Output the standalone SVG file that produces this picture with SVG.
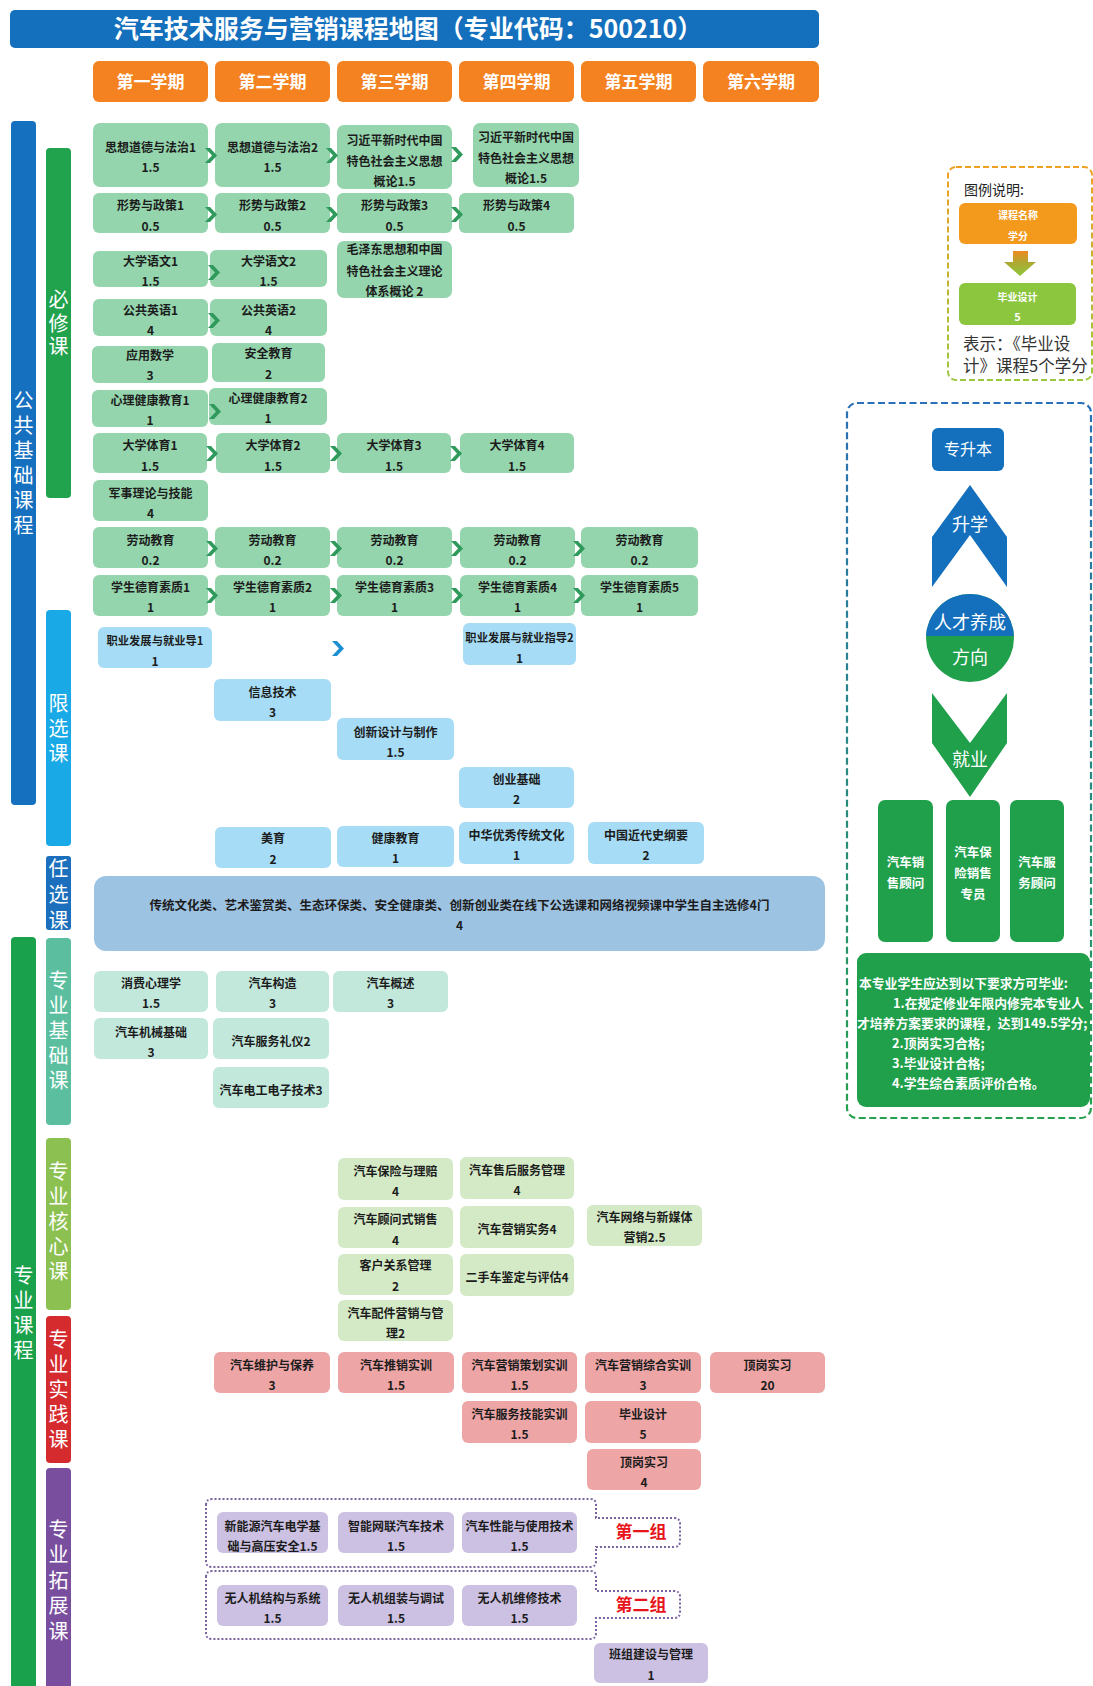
<svg xmlns="http://www.w3.org/2000/svg" width="1093" height="1686" viewBox="0 0 1093 1686">
<defs>
<style>
.t{font-family:"Noto Sans CJK SC","Noto Sans",sans-serif;font-size:12px;font-weight:700;fill:#1c1c1c;text-anchor:middle}
.ts{font-size:11.3px}
.w{font-family:"Noto Sans CJK SC","Noto Sans",sans-serif;fill:#ffffff;text-anchor:middle}
.bar{font-size:20px;writing-mode:vertical-rl;letter-spacing:5px}
.hd{font-size:17px;font-weight:700}
.req{fill:#94d5ad}
.lim{fill:#a6dcf6}
.fre{fill:#9dc3e3}
.fnd{fill:#c2e8dc}
.cor{fill:#d4eac6}
.pra{fill:#eea5a6}
.ext{fill:#ccc1e2}
.sem{fill:#f58220}
.chg{fill:#2f9a5c}
.chb{fill:#1b8fd2}
.grp{fill:none;stroke:#7a64a2;stroke-width:2;stroke-dasharray:2 2}
.gl{font-family:"Noto Sans CJK SC","Noto Sans",sans-serif;font-size:17px;font-weight:700;fill:#e8141c;text-anchor:middle}
.job{fill:#20a04b}
</style>
<path id="chev" d="M0,0 h5 l7,7.5 l-7,7.5 h-5 l7,-7.5 z"/>
<linearGradient id="gLeg" x1="0" y1="0" x2="0" y2="1"><stop offset="0" stop-color="#f0a020"/><stop offset="1" stop-color="#9cc840"/></linearGradient>
<linearGradient id="gPan" x1="0" y1="0" x2="0" y2="1"><stop offset="0" stop-color="#2a70b8"/><stop offset="1" stop-color="#26a04e"/></linearGradient>
<linearGradient id="gArr" x1="0" y1="0" x2="0" y2="1"><stop offset="0" stop-color="#f08a20"/><stop offset="0.45" stop-color="#b0a830"/><stop offset="1" stop-color="#8cc63e"/></linearGradient>
<clipPath id="cTop"><rect x="920" y="590" width="100" height="46"/></clipPath>
</defs>
<rect width="1093" height="1686" fill="#ffffff"/>

<g id="title">
<rect x="10" y="10" width="809" height="38" rx="5" fill="#1470bd"/>
<text class="w" x="408" y="38" style="font-size:25px;font-weight:700">汽车技术服务与营销课程地图（专业代码：500210）</text>
</g>

<g id="semesters">
<g id="sem1"><rect class="sem" x="93" y="61" width="115" height="41" rx="6"/><text class="w hd" x="150.5" y="88">第一学期</text></g>
<g id="sem2"><rect class="sem" x="215" y="61" width="115" height="41" rx="6"/><text class="w hd" x="272.5" y="88">第二学期</text></g>
<g id="sem3"><rect class="sem" x="337" y="61" width="115" height="41" rx="6"/><text class="w hd" x="394.5" y="88">第三学期</text></g>
<g id="sem4"><rect class="sem" x="459" y="61" width="115" height="41" rx="6"/><text class="w hd" x="516.5" y="88">第四学期</text></g>
<g id="sem5"><rect class="sem" x="581" y="61" width="115" height="41" rx="6"/><text class="w hd" x="638.5" y="88">第五学期</text></g>
<g id="sem6"><rect class="sem" x="703" y="61" width="116" height="41" rx="6"/><text class="w hd" x="761" y="88">第六学期</text></g>
</g>

<g id="category-bars">
<g id="bar-public"><rect x="11" y="121" width="25" height="684" rx="4" fill="#1570bf"/>
<text class="w bar" x="23.5" y="465">公共基础课程</text></g>
<g id="bar-required"><rect x="46" y="148" width="25" height="350" rx="4" fill="#21a24d"/>
<text class="w bar" x="58.5" y="325" style="letter-spacing:3.5px">必修课</text></g>
<g id="bar-limited"><rect x="46" y="610" width="25" height="236" rx="4" fill="#18a9e6"/>
<text class="w bar" x="58.5" y="731">限选课</text></g>
<g id="bar-free"><rect x="46" y="856" width="25" height="74" rx="3" fill="#1b6fbd"/>
<text class="w bar" x="58.5" y="897" style="letter-spacing:6px">任选课</text></g>
<g id="bar-major"><rect x="11" y="937" width="25" height="760" rx="4" fill="#1aa14b"/>
<text class="w bar" x="23.5" y="1315">专业课程</text></g>
<g id="bar-foundation"><rect x="46" y="938" width="25" height="187" rx="4" fill="#5bbf9f"/>
<text class="w bar" x="58.5" y="1033">专业基础课</text></g>
<g id="bar-core"><rect x="46" y="1138" width="25" height="172" rx="4" fill="#8cc152"/>
<text class="w bar" x="58.5" y="1224">专业核心课</text></g>
<g id="bar-practice"><rect x="46" y="1316" width="25" height="147" rx="4" fill="#d52b2f"/>
<text class="w bar" x="58.5" y="1392">专业实践课</text></g>
<g id="bar-extension"><rect x="46" y="1468" width="25" height="230" rx="4" fill="#7a4e9f"/>
<text class="w bar" x="58.5" y="1583" style="letter-spacing:5.5px">专业拓展课</text></g>
</g>

<g id="required-courses">
<g id="c-sxdd1"><rect class="req" x="93" y="123" width="115" height="64" rx="7"/><text class="t" x="150.5" y="151.5">思想道德与法治1</text><text class="t" x="150.5" y="171.5">1.5</text></g>
<g id="c-sxdd2"><rect class="req" x="215" y="123" width="115" height="64" rx="7"/><text class="t" x="272.5" y="151.5">思想道德与法治2</text><text class="t" x="272.5" y="171.5">1.5</text></g>
<g id="c-xjp3"><rect class="req" x="337" y="125" width="115" height="64" rx="7"/><text class="t" x="394.5" y="144.5">习近平新时代中国</text><text class="t" x="394.5" y="165.5">特色社会主义思想</text><text class="t" x="394.5" y="185.5">概论1.5</text></g>
<g id="c-xjp4"><rect class="req" x="473" y="123" width="106" height="64" rx="7"/><text class="t" x="526" y="141.5">习近平新时代中国</text><text class="t" x="526" y="162.5">特色社会主义思想</text><text class="t" x="526" y="182.5">概论1.5</text></g>
<g id="c-xszc1"><rect class="req" x="93" y="193" width="115" height="40" rx="6"/><text class="t" x="150.5" y="209.5">形势与政策1</text><text class="t" x="150.5" y="230.5">0.5</text></g>
<g id="c-xszc2"><rect class="req" x="215" y="193" width="115" height="40" rx="6"/><text class="t" x="272.5" y="209.5">形势与政策2</text><text class="t" x="272.5" y="230.5">0.5</text></g>
<g id="c-xszc3"><rect class="req" x="337" y="193" width="115" height="40" rx="6"/><text class="t" x="394.5" y="209.5">形势与政策3</text><text class="t" x="394.5" y="230.5">0.5</text></g>
<g id="c-xszc4"><rect class="req" x="459" y="193" width="115" height="40" rx="6"/><text class="t" x="516.5" y="209.5">形势与政策4</text><text class="t" x="516.5" y="230.5">0.5</text></g>
<g id="c-dxyw1"><rect class="req" x="93" y="251" width="115" height="36" rx="6"/><text class="t" x="150.5" y="265.5">大学语文1</text><text class="t" x="150.5" y="285.5">1.5</text></g>
<g id="c-dxyw2"><rect class="req" x="210" y="250" width="117" height="37" rx="6"/><text class="t" x="268.5" y="265.5">大学语文2</text><text class="t" x="268.5" y="285.5">1.5</text></g>
<g id="c-mzd"><rect class="req" x="337" y="241" width="115" height="57" rx="7"/><text class="t" x="394.5" y="253.5">毛泽东思想和中国</text><text class="t" x="394.5" y="275.5">特色社会主义理论</text><text class="t" x="394.5" y="295.5">体系概论 2</text></g>
<g id="c-ggyy1"><rect class="req" x="93" y="299" width="115" height="37" rx="6"/><text class="t" x="150.5" y="314.5">公共英语1</text><text class="t" x="150.5" y="334.5">4</text></g>
<g id="c-ggyy2"><rect class="req" x="210" y="299" width="117" height="37" rx="6"/><text class="t" x="268.5" y="314.5">公共英语2</text><text class="t" x="268.5" y="334.5">4</text></g>
<g id="c-yysx"><rect class="req" x="92" y="346" width="116" height="37" rx="6"/><text class="t" x="150" y="359.5">应用数学</text><text class="t" x="150" y="379.5">3</text></g>
<g id="c-aqjy"><rect class="req" x="212" y="343" width="113" height="39" rx="6"/><text class="t" x="268.5" y="357.5">安全教育</text><text class="t" x="268.5" y="378.5">2</text></g>
<g id="c-xljk1"><rect class="req" x="92" y="390" width="116" height="37" rx="6"/><text class="t" x="150" y="404.5">心理健康教育1</text><text class="t" x="150" y="424.5">1</text></g>
<g id="c-xljk2"><rect class="req" x="209" y="388" width="118" height="37" rx="6"/><text class="t" x="268" y="402.5">心理健康教育2</text><text class="t" x="268" y="422.5">1</text></g>
<g id="c-dxty1"><rect class="req" x="93" y="433" width="114" height="40" rx="6"/><text class="t" x="150" y="449.5">大学体育1</text><text class="t" x="150" y="470.5">1.5</text></g>
<g id="c-dxty2"><rect class="req" x="216" y="433" width="114" height="40" rx="6"/><text class="t" x="273" y="449.5">大学体育2</text><text class="t" x="273" y="470.5">1.5</text></g>
<g id="c-dxty3"><rect class="req" x="337" y="433" width="114" height="40" rx="6"/><text class="t" x="394" y="449.5">大学体育3</text><text class="t" x="394" y="470.5">1.5</text></g>
<g id="c-dxty4"><rect class="req" x="460" y="433" width="114" height="40" rx="6"/><text class="t" x="517" y="449.5">大学体育4</text><text class="t" x="517" y="470.5">1.5</text></g>
<g id="c-jsll"><rect class="req" x="93" y="480" width="115" height="41" rx="6"/><text class="t" x="150.5" y="497.5">军事理论与技能</text><text class="t" x="150.5" y="517.5">4</text></g>
<g id="c-ldjy1"><rect class="req" x="93" y="527" width="115" height="41" rx="6"/><text class="t" x="150.5" y="544.5">劳动教育</text><text class="t" x="150.5" y="564.5">0.2</text></g>
<g id="c-ldjy2"><rect class="req" x="215" y="527" width="115" height="41" rx="6"/><text class="t" x="272.5" y="544.5">劳动教育</text><text class="t" x="272.5" y="564.5">0.2</text></g>
<g id="c-ldjy3"><rect class="req" x="337" y="527" width="115" height="41" rx="6"/><text class="t" x="394.5" y="544.5">劳动教育</text><text class="t" x="394.5" y="564.5">0.2</text></g>
<g id="c-ldjy4"><rect class="req" x="460" y="527" width="115" height="41" rx="6"/><text class="t" x="517.5" y="544.5">劳动教育</text><text class="t" x="517.5" y="564.5">0.2</text></g>
<g id="c-ldjy5"><rect class="req" x="581" y="527" width="117" height="41" rx="6"/><text class="t" x="639.5" y="544.5">劳动教育</text><text class="t" x="639.5" y="564.5">0.2</text></g>
<g id="c-dysz1"><rect class="req" x="93" y="575" width="115" height="41" rx="6"/><text class="t" x="150.5" y="591.5">学生德育素质1</text><text class="t" x="150.5" y="611.5">1</text></g>
<g id="c-dysz2"><rect class="req" x="215" y="575" width="115" height="41" rx="6"/><text class="t" x="272.5" y="591.5">学生德育素质2</text><text class="t" x="272.5" y="611.5">1</text></g>
<g id="c-dysz3"><rect class="req" x="337" y="575" width="115" height="41" rx="6"/><text class="t" x="394.5" y="591.5">学生德育素质3</text><text class="t" x="394.5" y="611.5">1</text></g>
<g id="c-dysz4"><rect class="req" x="460" y="575" width="115" height="41" rx="6"/><text class="t" x="517.5" y="591.5">学生德育素质4</text><text class="t" x="517.5" y="611.5">1</text></g>
<g id="c-dysz5"><rect class="req" x="581" y="575" width="117" height="41" rx="6"/><text class="t" x="639.5" y="591.5">学生德育素质5</text><text class="t" x="639.5" y="611.5">1</text></g>
</g>

<g id="limited-courses">
<g id="c-zyfz1"><rect class="lim" x="98" y="627" width="114" height="41" rx="6"/><text class="t ts" x="155" y="644.5">职业发展与就业导1</text><text class="t" x="155" y="665.5">1</text></g>
<g id="c-zyfz2"><rect class="lim" x="463" y="623" width="113" height="42" rx="6"/><text class="t ts" x="519.5" y="641.5">职业发展与就业指导2</text><text class="t" x="519.5" y="662.5">1</text></g>
<g id="c-xxjs"><rect class="lim" x="214" y="679" width="117" height="42" rx="6"/><text class="t" x="272.5" y="696.5">信息技术</text><text class="t" x="272.5" y="716.5">3</text></g>
<g id="c-cxsj"><rect class="lim" x="337" y="718" width="117" height="42" rx="6"/><text class="t" x="395.5" y="736.5">创新设计与制作</text><text class="t" x="395.5" y="756.5">1.5</text></g>
<g id="c-cyjc"><rect class="lim" x="459" y="767" width="115" height="41" rx="6"/><text class="t" x="516.5" y="783.5">创业基础</text><text class="t" x="516.5" y="803.5">2</text></g>
<g id="c-my"><rect class="lim" x="215" y="827" width="116" height="41" rx="6"/><text class="t" x="273" y="842.5">美育</text><text class="t" x="273" y="863.5">2</text></g>
<g id="c-jkjy"><rect class="lim" x="337" y="826" width="117" height="41" rx="6"/><text class="t" x="395.5" y="842.5">健康教育</text><text class="t" x="395.5" y="862.5">1</text></g>
<g id="c-zhyx"><rect class="lim" x="459" y="822" width="115" height="42" rx="6"/><text class="t" x="516.5" y="839.5">中华优秀传统文化</text><text class="t" x="516.5" y="859.5">1</text></g>
<g id="c-zgjd"><rect class="lim" x="588" y="822" width="116" height="42" rx="6"/><text class="t" x="646" y="839.5">中国近代史纲要</text><text class="t" x="646" y="859.5">2</text></g>
</g>

<g id="free-courses">
<g id="c-free"><rect class="fre" x="94" y="876" width="731" height="75" rx="12"/><text class="t" x="459.5" y="909.5" style="font-size:12.5px">传统文化类、艺术鉴赏类、生态环保类、安全健康类、创新创业类在线下公选课和网络视频课中学生自主选修4门</text><text class="t" x="459.5" y="929.5">4</text></g>
</g>

<g id="foundation-courses">
<g id="c-xfxl"><rect class="fnd" x="94" y="971" width="114" height="41" rx="6"/><text class="t" x="151" y="987.5">消费心理学</text><text class="t" x="151" y="1007.5">1.5</text></g>
<g id="c-qcgz"><rect class="fnd" x="216" y="971" width="113" height="41" rx="6"/><text class="t" x="272.5" y="987.5">汽车构造</text><text class="t" x="272.5" y="1007.5">3</text></g>
<g id="c-qcgs"><rect class="fnd" x="333" y="971" width="115" height="41" rx="6"/><text class="t" x="390.5" y="987.5">汽车概述</text><text class="t" x="390.5" y="1007.5">3</text></g>
<g id="c-qcjx"><rect class="fnd" x="94" y="1018" width="114" height="41" rx="6"/><text class="t" x="151" y="1036.5">汽车机械基础</text><text class="t" x="151" y="1056.5">3</text></g>
<g id="c-fwly"><rect class="fnd" x="213" y="1018" width="116" height="41" rx="6"/><text class="t" x="271" y="1045.5">汽车服务礼仪2</text></g>
<g id="c-dgdz"><rect class="fnd" x="213" y="1067" width="116" height="41" rx="6"/><text class="t" x="271" y="1094.5">汽车电工电子技术3</text></g>
</g>

<g id="core-courses">
<g id="c-bxlp"><rect class="cor" x="338" y="1158" width="115" height="42" rx="6"/><text class="t" x="395.5" y="1175.5">汽车保险与理赔</text><text class="t" x="395.5" y="1195.5">4</text></g>
<g id="c-shfw"><rect class="cor" x="460" y="1157" width="114" height="42" rx="6"/><text class="t" x="517" y="1174.5">汽车售后服务管理</text><text class="t" x="517" y="1194.5">4</text></g>
<g id="c-gwxs"><rect class="cor" x="338" y="1207" width="115" height="41" rx="6"/><text class="t" x="395.5" y="1223.5">汽车顾问式销售</text><text class="t" x="395.5" y="1244.5">4</text></g>
<g id="c-yxsw"><rect class="cor" x="460" y="1206" width="114" height="42" rx="6"/><text class="t" x="517" y="1233.5">汽车营销实务4</text></g>
<g id="c-wlxmt"><rect class="cor" x="587" y="1205" width="115" height="41" rx="6"/><text class="t" x="644.5" y="1221.5">汽车网络与新媒体</text><text class="t" x="644.5" y="1241.5">营销2.5</text></g>
<g id="c-khgx"><rect class="cor" x="338" y="1254" width="115" height="41" rx="6"/><text class="t" x="395.5" y="1269.5">客户关系管理</text><text class="t" x="395.5" y="1290.5">2</text></g>
<g id="c-escjd"><rect class="cor" x="460" y="1254" width="114" height="42" rx="6"/><text class="t" x="517" y="1281.5">二手车鉴定与评估4</text></g>
<g id="c-pjyx"><rect class="cor" x="338" y="1300" width="115" height="41" rx="6"/><text class="t" x="395.5" y="1317.5">汽车配件营销与管</text><text class="t" x="395.5" y="1337.5">理2</text></g>
</g>

<g id="practice-courses">
<g id="c-whby"><rect class="pra" x="214" y="1352" width="116" height="41" rx="6"/><text class="t" x="272" y="1369.5">汽车维护与保养</text><text class="t" x="272" y="1389.5">3</text></g>
<g id="c-txsx"><rect class="pra" x="338" y="1352" width="116" height="41" rx="6"/><text class="t" x="396" y="1369.5">汽车推销实训</text><text class="t" x="396" y="1389.5">1.5</text></g>
<g id="c-yxch"><rect class="pra" x="462" y="1352" width="115" height="41" rx="6"/><text class="t" x="519.5" y="1369.5">汽车营销策划实训</text><text class="t" x="519.5" y="1389.5">1.5</text></g>
<g id="c-yxzh"><rect class="pra" x="585" y="1352" width="116" height="41" rx="6"/><text class="t" x="643" y="1369.5">汽车营销综合实训</text><text class="t" x="643" y="1389.5">3</text></g>
<g id="c-dgsx20"><rect class="pra" x="710" y="1352" width="115" height="41" rx="6"/><text class="t" x="767.5" y="1369.5">顶岗实习</text><text class="t" x="767.5" y="1389.5">20</text></g>
<g id="c-fwjn"><rect class="pra" x="462" y="1401" width="115" height="42" rx="6"/><text class="t" x="519.5" y="1418.5">汽车服务技能实训</text><text class="t" x="519.5" y="1438.5">1.5</text></g>
<g id="c-bysj"><rect class="pra" x="585" y="1401" width="116" height="42" rx="6"/><text class="t" x="643" y="1418.5">毕业设计</text><text class="t" x="643" y="1438.5">5</text></g>
<g id="c-dgsx4"><rect class="pra" x="587" y="1449" width="114" height="41" rx="6"/><text class="t" x="644" y="1466.5">顶岗实习</text><text class="t" x="644" y="1486.5">4</text></g>
</g>

<g id="extension-courses">
<g id="group1">
<path class="grp" d="M206,1505 Q206,1499 212,1499 L590,1499 Q596,1499 596,1505 L596,1518 L674,1518 Q680,1518 680,1524 L680,1541 Q680,1547 674,1547 L596,1547 L596,1561 Q596,1567 590,1567 L212,1567 Q206,1567 206,1561 Z"/>
<text class="gl" x="641" y="1538">第一组</text>
</g>
<g id="group2">
<path class="grp" d="M206,1577 Q206,1571 212,1571 L590,1571 Q596,1571 596,1577 L596,1591 L674,1591 Q680,1591 680,1597 L680,1612 Q680,1618 674,1618 L596,1618 L596,1633 Q596,1639 590,1639 L212,1639 Q206,1639 206,1633 Z"/>
<text class="gl" x="641" y="1611">第二组</text>
</g>
<g id="c-xny"><rect class="ext" x="217" y="1512" width="111" height="41" rx="6"/><text class="t" x="272.5" y="1530.5">新能源汽车电学基</text><text class="t" x="272.5" y="1550.5">础与高压安全1.5</text></g>
<g id="c-znwl"><rect class="ext" x="338" y="1512" width="116" height="41" rx="6"/><text class="t" x="396" y="1530.5">智能网联汽车技术</text><text class="t" x="396" y="1550.5">1.5</text></g>
<g id="c-xnsy"><rect class="ext" x="462" y="1512" width="115" height="41" rx="6"/><text class="t" x="519.5" y="1530.5">汽车性能与使用技术</text><text class="t" x="519.5" y="1550.5">1.5</text></g>
<g id="c-wrjjg"><rect class="ext" x="217" y="1585" width="111" height="41" rx="6"/><text class="t" x="272.5" y="1602.5">无人机结构与系统</text><text class="t" x="272.5" y="1622.5">1.5</text></g>
<g id="c-wrjzz"><rect class="ext" x="338" y="1585" width="116" height="41" rx="6"/><text class="t" x="396" y="1602.5">无人机组装与调试</text><text class="t" x="396" y="1622.5">1.5</text></g>
<g id="c-wrjwx"><rect class="ext" x="462" y="1585" width="115" height="41" rx="6"/><text class="t" x="519.5" y="1602.5">无人机维修技术</text><text class="t" x="519.5" y="1622.5">1.5</text></g>
<g id="c-bzjs"><rect class="ext" x="594" y="1643" width="114" height="40" rx="6"/><text class="t" x="651" y="1658.5">班组建设与管理</text><text class="t" x="651" y="1679.5">1</text></g>
</g>

<g id="connectors">
<use href="#chev" class="chg" x="205" y="148"/>
<use href="#chev" class="chg" x="326" y="148"/>
<use href="#chev" class="chg" x="451" y="147"/>
<use href="#chev" class="chg" x="205" y="207"/>
<use href="#chev" class="chg" x="326" y="207"/>
<use href="#chev" class="chg" x="451" y="207"/>
<use href="#chev" class="chg" x="208" y="265"/>
<use href="#chev" class="chg" x="208" y="313"/>
<use href="#chev" class="chg" x="209" y="404"/>
<use href="#chev" class="chg" x="206" y="446"/>
<use href="#chev" class="chg" x="330" y="446"/>
<use href="#chev" class="chg" x="450" y="446"/>
<use href="#chev" class="chg" x="206" y="541"/>
<use href="#chev" class="chg" x="330" y="541"/>
<use href="#chev" class="chg" x="451" y="541"/>
<use href="#chev" class="chg" x="573" y="541"/>
<use href="#chev" class="chg" x="206" y="588"/>
<use href="#chev" class="chg" x="330" y="588"/>
<use href="#chev" class="chg" x="451" y="588"/>
<use href="#chev" class="chg" x="573" y="588"/>
<use href="#chev" class="chb" x="332" y="641"/>
</g>

<g id="legend">
<rect x="948" y="167" width="144" height="213" rx="8" fill="none" stroke="url(#gLeg)" stroke-width="2" stroke-dasharray="6 3"/>
<text x="964" y="195" style="font-family:'Noto Sans CJK SC','Noto Sans',sans-serif;font-size:14px;fill:#222">图例说明:</text>
<g id="legend-course"><rect x="959" y="203" width="118" height="41" rx="6" fill="#f39a1d"/>
<text class="w" x="1018" y="219" style="font-size:10px;font-weight:700">课程名称</text><text class="w" x="1018" y="240" style="font-size:10px;font-weight:700">学分</text></g>
<path id="legend-arrow" d="M1013,251 H1028 V262 H1036 L1020,276 L1004,262 H1013 Z" fill="url(#gArr)"/>
<g id="legend-sample"><rect x="959" y="283" width="117" height="42" rx="6" fill="#8cc63e"/>
<text class="w" x="1017.5" y="301" style="font-size:10px;font-weight:700">毕业设计</text><text class="w" x="1017.5" y="321" style="font-size:11px;font-weight:700">5</text></g>
<text x="963" y="350" style="font-family:'Noto Sans CJK SC','Noto Sans',sans-serif;font-size:16.5px;fill:#333">表示：《毕业设</text>
<text x="963" y="372" style="font-family:'Noto Sans CJK SC','Noto Sans',sans-serif;font-size:16.5px;fill:#333">计》课程5个学分</text>
</g>

<g id="career-panel">
<rect x="847" y="403" width="244" height="715" rx="10" fill="none" stroke="url(#gPan)" stroke-width="2.2" stroke-dasharray="7 3.5"/>
<g id="n-zsb"><rect x="932" y="428" width="72" height="43" rx="6" fill="#1470bd"/><text class="w" x="968" y="455" style="font-size:16px">专升本</text></g>
<g id="n-shengxue"><polygon points="970,485 1007,537 1007,587 970,535 932,587 932,537" fill="#1470bd"/><text class="w" x="970" y="531" style="font-size:18px">升学</text></g>
<g id="n-fangxiang">
<circle cx="970" cy="638" r="44" fill="#20a04b"/>
<circle cx="970" cy="638" r="44" fill="#1470bd" clip-path="url(#cTop)"/>
<text class="w" x="970" y="629" style="font-size:18px">人才养成</text>
<text class="w" x="970" y="664" style="font-size:18px">方向</text>
</g>
<g id="n-jiuye"><polygon points="932,693 970,743 1007,693 1007,743 970,797 932,743" fill="#20a04b"/><text class="w" x="970" y="766" style="font-size:18px">就业</text></g>
<g id="n-job1"><rect class="job" x="878" y="800" width="55" height="142" rx="7"/><text class="w" x="905.5" y="867" style="font-size:12.5px;font-weight:700">汽车销</text><text class="w" x="905.5" y="888" style="font-size:12.5px;font-weight:700">售顾问</text></g>
<g id="n-job2"><rect class="job" x="946" y="800" width="54" height="142" rx="7"/><text class="w" x="973" y="857" style="font-size:12.5px;font-weight:700">汽车保</text><text class="w" x="973" y="878" style="font-size:12.5px;font-weight:700">险销售</text><text class="w" x="973" y="899" style="font-size:12.5px;font-weight:700">专员</text></g>
<g id="n-job3"><rect class="job" x="1010" y="800" width="54" height="142" rx="7"/><text class="w" x="1037" y="867" style="font-size:12.5px;font-weight:700">汽车服</text><text class="w" x="1037" y="888" style="font-size:12.5px;font-weight:700">务顾问</text></g>
<g id="n-require"><rect class="job" x="857" y="953" width="233" height="154" rx="9"/>
<g style="font-family:'Noto Sans CJK SC','Noto Sans',sans-serif;font-size:12.8px;font-weight:700;fill:#fff">
<text x="859" y="988">本专业学生应达到以下要求方可毕业:</text>
<text x="893" y="1008">1.在规定修业年限内修完本专业人</text>
<text x="857" y="1028">才培养方案要求的课程，达到149.5学分;</text>
<text x="892" y="1048">2.顶岗实习合格;</text>
<text x="892" y="1068">3.毕业设计合格;</text>
<text x="892" y="1088">4.学生综合素质评价合格。</text>
</g></g>
</g>
</svg>
